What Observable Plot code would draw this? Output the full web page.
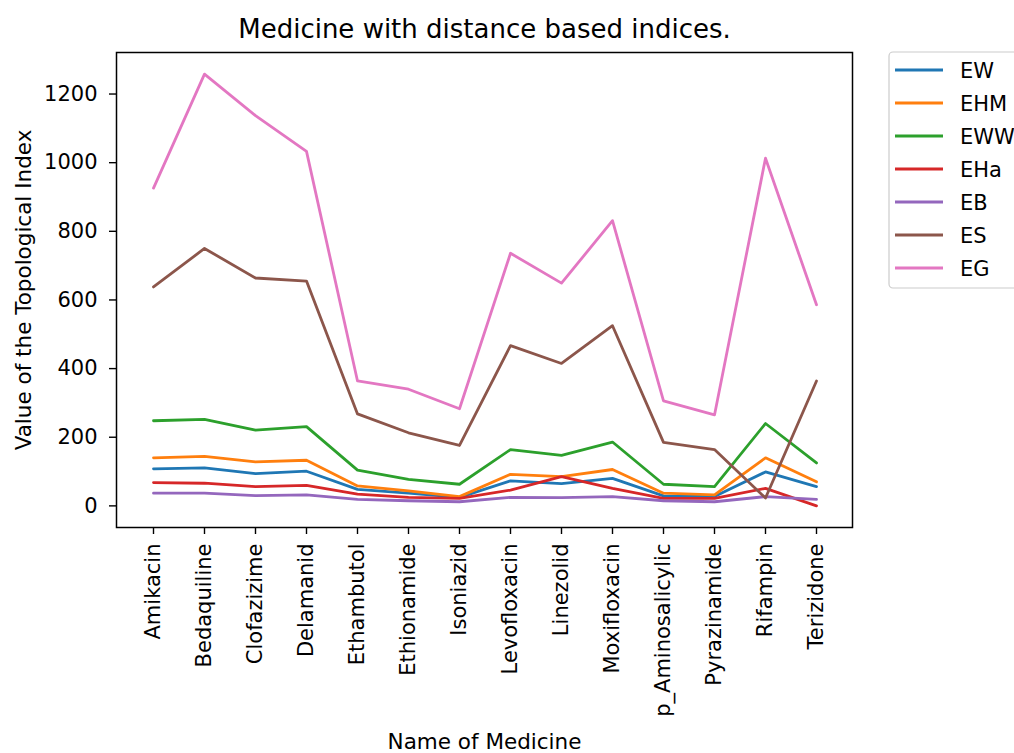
<!DOCTYPE html>
<html>
<head>
<meta charset="utf-8">
<script src="https://cdn.jsdelivr.net/npm/d3@7"></script>
<script src="https://cdn.jsdelivr.net/npm/@observablehq/plot@0.6"></script>
<style>
  body { margin: 0; background: white; }
  #chart svg { overflow: hidden; }
</style>
</head>
<body>
<div id="chart"></div>
<script>
const medicines = ["Amikacin","Bedaquiline","Clofazizime","Delamanid","Ethambutol","Ethionamide","Isoniazid","Levofloxacin","Linezolid","Moxifloxacin","p_Aminosalicylic","Pyrazinamide","Rifampin","Terizidone"];
const seriesNames = ["EW","EHM","EWW","EHa","EB","ES","EG"];
const seriesColors = ["#1f77b4","#ff7f0e","#2ca02c","#d62728","#9467bd","#8c564b","#e377c2"];

const EW  = [108, 111, 94, 101, 48, 37, 25, 73, 65, 80, 29, 27, 99, 56];
const EHM = [140, 144, 128, 133, 58, 44, 27, 92, 85, 106, 37, 32, 140, 70];
const EWW = [248, 252, 221, 231, 104, 77, 63, 164, 147, 186, 63, 56, 240, 125];
const EHa = [68, 66, 56, 60, 34, 25, 22, 46, 85, 51, 22, 22, 51, 0];
const EB  = [37, 37, 30, 32, 19, 15, 12, 25, 24, 27, 15, 12, 27, 19];
const ES  = [638, 750, 664, 655, 268, 213, 176, 467, 415, 525, 185, 164, 23, 364];
const EG  = [926, 1258, 1137, 1033, 364, 340, 283, 736, 649, 831, 306, 265, 1013, 586];

const yTicks = [0, 200, 400, 600, 800, 1000, 1200];
const titleText = "Medicine with distance based indices.";
const xLabel = "Name of Medicine";
const yLabel = "Value of the Topological Index";

const allValues = [EW, EHM, EWW, EHa, EB, ES, EG];
const data = seriesNames.flatMap((s, i) =>
  medicines.map((m, j) => ({medicine: m, series: s, value: allValues[i][j]}))
);

const W = 1014, H = 753;
const mL = 116, mR = 162, mT = 52, mB = 226;
const fs = 21;

const plot = Plot.plot({
  width: W, height: H,
  marginLeft: mL, marginRight: mR, marginTop: mT, marginBottom: mB,
  style: {fontFamily: "DejaVu Sans", fontSize: fs + "px", color: "#000", background: "white"},
  x: {type: "point", domain: medicines, padding: 0.67, label: null},
  y: {domain: [-63, 1321], label: null},
  color: {domain: seriesNames, range: seriesColors},
  marks: [
    Plot.axisX({tickRotate: -90, tickSize: 7, tickPadding: 9, label: null, stroke: "#000", strokeWidth: 1.4, strokeOpacity: 1, fontSize: fs}),
    Plot.axisY({ticks: yTicks, tickFormat: d3.format("d"), tickSize: 7, tickPadding: 12, label: null, stroke: "#000", strokeWidth: 1.4, strokeOpacity: 1, fontSize: fs}),
    Plot.lineY(data, {x: "medicine", y: "value", stroke: "series", strokeWidth: 2.8, z: "series"}),
    Plot.frame({stroke: "#000", strokeWidth: 1.5}),
    Plot.text([titleText], {frameAnchor: "top", dy: -23, textAnchor: "middle", lineAnchor: "middle", fontSize: 26, fill: "#000"}),
    Plot.text([xLabel], {frameAnchor: "bottom", dy: 215, textAnchor: "middle", lineAnchor: "middle", fontSize: 21.5, fill: "#000"}),
    Plot.text([yLabel], {frameAnchor: "left", dx: -92, rotate: -90, textAnchor: "middle", lineAnchor: "middle", fontSize: 21.5, fill: "#000"})
  ]
});

document.getElementById("chart").appendChild(plot);

// Legend
const svg = d3.select(plot);
const lg = svg.append("g").attr("font-family", "DejaVu Sans").attr("font-size", fs).attr("text-anchor", "start");
lg.append("rect")
  .attr("x", 889).attr("y", 52).attr("width", 200).attr("height", 236)
  .attr("rx", 4).attr("fill", "white").attr("fill-opacity", 0.8)
  .attr("stroke", "#cccccc").attr("stroke-width", 1.2);
seriesNames.forEach((s, i) => {
  const y = 70 + 33 * i;
  lg.append("line").attr("x1", 895).attr("x2", 943).attr("y1", y).attr("y2", y)
    .attr("stroke", seriesColors[i]).attr("stroke-width", 2.8);
  lg.append("text").attr("x", 960).attr("y", y).attr("dy", "0.36em")
    .attr("text-anchor", "start").attr("fill", "#000").text(s);
});
</script>
</body>
</html>
